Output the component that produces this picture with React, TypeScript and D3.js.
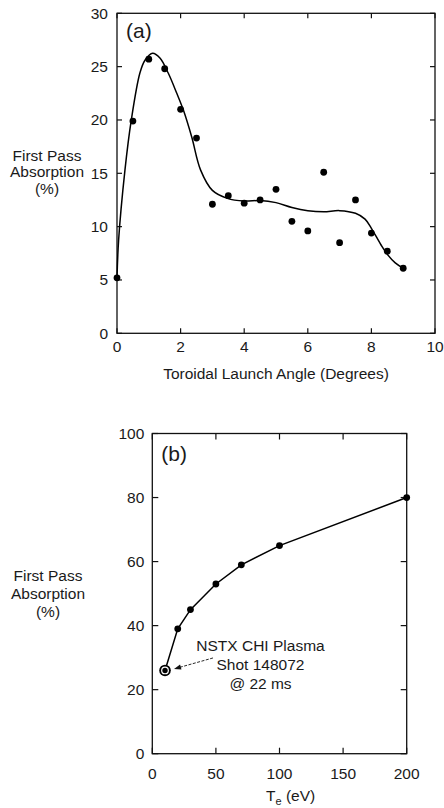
import React from "react";
import * as d3 from "d3";

// Panel (a): measured points
const angleA = [0, 0.5, 1.0, 1.5, 2.0, 2.5, 3.0, 3.5, 4.0, 4.5, 5.0, 5.5, 6.0, 6.5, 7.0, 7.5, 8.0, 8.5, 9.0];
const absorbA = [5.2, 19.9, 25.7, 24.8, 21.0, 18.3, 12.1, 12.9, 12.2, 12.5, 13.5, 10.5, 9.6, 15.1, 8.5, 12.5, 9.4, 7.7, 6.1];

// Panel (a): smooth fit curve
const fitX = [0, 0.05, 0.25, 0.45, 0.72, 0.88, 1.12, 1.35, 1.61, 1.88, 2.09, 2.35, 2.63, 3.0, 3.47, 4.0, 4.5, 5.0, 5.5, 6.0, 6.5, 7.0, 7.5, 7.8, 8.0, 8.3, 8.5, 8.75, 9.0];
const fitY = [5.2, 8.7, 15.3, 20.0, 24.4, 25.6, 26.25, 25.8, 24.4, 22.5, 20.9, 18.4, 15.3, 13.4, 12.65, 12.4, 12.45, 12.25, 11.8, 11.5, 11.4, 11.5, 11.25, 10.7, 9.84, 8.3, 7.4, 6.6, 6.1];

const ticksAX = [0, 2, 4, 6, 8, 10];
const ticksAY = [0, 5, 10, 15, 20, 25, 30];

// Panel (b)
const teB = [10, 20, 30, 50, 70, 100, 200];
const absorbB = [26, 39, 45, 53, 59, 65, 80];
const ticksBX = [0, 50, 100, 150, 200];
const ticksBY = [0, 20, 40, 60, 80, 100];

const noteLines = ["NSTX CHI Plasma", "Shot 148072", "@ 22 ms"];
const yLabel = ["First Pass", "Absorption", "(%)"];

const FONT = "'Liberation Sans', Arial, Helvetica, sans-serif";
const FS = 15.5;
const TXT = "#1a1a1a";

export default function App() {
  // Panel a geometry
  const aL = 117, aR = 435, aT = 13.3, aB = 333.3;
  const xA = d3.scaleLinear().domain([0, 10]).range([aL, aR]);
  const yA = d3.scaleLinear().domain([0, 30]).range([aB, aT]);
  const fitData = fitX.map((x, i) => [x, fitY[i]] as [number, number]);
  const fitPath = d3
    .line<[number, number]>()
    .x((d) => xA(d[0]))
    .y((d) => yA(d[1]))
    .curve(d3.curveCatmullRom.alpha(0.5))(fitData);

  // Panel b geometry
  const bL = 152.3, bR = 406.7, bT = 433.5, bB = 753.7;
  const xB = d3.scaleLinear().domain([0, 200]).range([bL, bR]);
  const yB = d3.scaleLinear().domain([0, 100]).range([bB, bT]);
  const bData = teB.map((x, i) => [x, absorbB[i]] as [number, number]);
  const bPath = d3
    .line<[number, number]>()
    .x((d) => xB(d[0]))
    .y((d) => yB(d[1]))(bData);

  const tk = 5;
  const hx = xB(teB[0]);
  const hy = yB(absorbB[0]);
  // arrow
  const ax1 = hx + 48, ay1 = hy - 12.5;
  const ax2 = hx + 9, ay2 = hy - 1.5;
  const ang = Math.atan2(ay2 - ay1, ax2 - ax1);
  const ah = 7, aw = 2.6;
  const headPts = [
    [ax2, ay2],
    [ax2 - ah * Math.cos(ang) + aw * Math.sin(ang), ay2 - ah * Math.sin(ang) - aw * Math.cos(ang)],
    [ax2 - ah * Math.cos(ang) - aw * Math.sin(ang), ay2 - ah * Math.sin(ang) + aw * Math.cos(ang)],
  ]
    .map((p) => p.join(","))
    .join(" ");

  return (
    <svg
      width={444}
      height={808}
      style={{ position: "absolute", left: 0, top: 0, background: "#fff" }}
      fontFamily={FONT}
    >
      <rect x={0} y={0} width={444} height={808} fill="#fff" />
      {/* ---------- Panel (a) ---------- */}
      <rect x={aL} y={aT} width={aR - aL} height={aB - aT} fill="none" stroke="#111" strokeWidth={1.3} />
      {ticksAX.map((t) => (
        <g key={"ax" + t}>
          <line x1={xA(t)} x2={xA(t)} y1={aB} y2={aB - tk} stroke="#111" strokeWidth={1.2} />
          <line x1={xA(t)} x2={xA(t)} y1={aT} y2={aT + tk} stroke="#111" strokeWidth={1.2} />
          <text x={xA(t)} y={aB + 13} textAnchor="middle" dominantBaseline="central" fontSize={FS} fill={TXT}>
            {t}
          </text>
        </g>
      ))}
      {ticksAY.map((t) => (
        <g key={"ay" + t}>
          <line x1={aL} x2={aL + tk} y1={yA(t)} y2={yA(t)} stroke="#111" strokeWidth={1.2} />
          <line x1={aR} x2={aR - tk} y1={yA(t)} y2={yA(t)} stroke="#111" strokeWidth={1.2} />
          <text x={aL - 9} y={yA(t)} textAnchor="end" dominantBaseline="central" fontSize={FS} fill={TXT}>
            {t}
          </text>
        </g>
      ))}
      <text x={aL + 9} y={38} fontSize={21} fill={TXT}>
        (a)
      </text>
      <path d={fitPath || ""} fill="none" stroke="#000" strokeWidth={1.5} />
      {angleA.map((x, i) => (
        <circle key={"pa" + i} cx={xA(x)} cy={yA(absorbA[i])} r={3.4} fill="#000" />
      ))}
      <text x={(aL + aR) / 2} y={373} textAnchor="middle" dominantBaseline="central" fontSize={FS} fill={TXT}>
        Toroidal Launch Angle (Degrees)
      </text>
      {yLabel.map((s, i) => (
        <text key={"yla" + i} x={47} y={155 + i * 16.7} textAnchor="middle" dominantBaseline="central" fontSize={FS} fill={TXT}>
          {s}
        </text>
      ))}

      {/* ---------- Panel (b) ---------- */}
      <rect x={bL} y={bT} width={bR - bL} height={bB - bT} fill="none" stroke="#111" strokeWidth={1.3} />
      {ticksBX.map((t) => (
        <g key={"bx" + t}>
          <line x1={xB(t)} x2={xB(t)} y1={bB} y2={bB - 6} stroke="#111" strokeWidth={1.2} />
          <line x1={xB(t)} x2={xB(t)} y1={bT} y2={bT + 6} stroke="#111" strokeWidth={1.2} />
          <text x={xB(t)} y={bB + 20} textAnchor="middle" dominantBaseline="central" fontSize={FS} fill={TXT}>
            {t}
          </text>
        </g>
      ))}
      {ticksBY.map((t) => (
        <g key={"by" + t}>
          <line x1={bL} x2={bL + 6} y1={yB(t)} y2={yB(t)} stroke="#111" strokeWidth={1.2} />
          <line x1={bR} x2={bR - 6} y1={yB(t)} y2={yB(t)} stroke="#111" strokeWidth={1.2} />
          <text x={bL - 8} y={yB(t)} textAnchor="end" dominantBaseline="central" fontSize={FS} fill={TXT}>
            {t}
          </text>
        </g>
      ))}
      <text x={bL + 9} y={461} fontSize={21} fill={TXT}>
        (b)
      </text>
      <path d={bPath || ""} fill="none" stroke="#000" strokeWidth={1.5} />
      {teB.slice(1).map((x, i) => (
        <circle key={"pb" + i} cx={xB(x)} cy={yB(absorbB[i + 1])} r={3.4} fill="#000" />
      ))}
      {/* highlighted point */}
      <circle cx={hx} cy={hy} r={5.8} fill="#000" />
      <circle cx={hx} cy={hy} r={3.9} fill="#fff" />
      <circle cx={hx} cy={hy} r={2.7} fill="#000" />
      {/* arrow */}
      <line x1={ax1} y1={ay1} x2={ax2 - 5 * Math.cos(ang)} y2={ay2 - 5 * Math.sin(ang)} stroke="#111" strokeWidth={0.9} strokeDasharray="3,1.5" />
      <polygon points={headPts} fill="#111" />
      {noteLines.map((s, i) => (
        <text key={"note" + i} x={260.5} y={645 + i * 19} textAnchor="middle" dominantBaseline="central" fontSize={FS} fill={TXT}>
          {s}
        </text>
      ))}
      {/* x label */}
      <text x={266} y={795} dominantBaseline="central" fontSize={FS} fill={TXT}>
        T
        <tspan fontSize={11} dy={6}>e</tspan>
        <tspan dy={-6}> (eV)</tspan>
      </text>
      {yLabel.map((s, i) => (
        <text key={"ylb" + i} x={48} y={575 + i * 18.3} textAnchor="middle" dominantBaseline="central" fontSize={FS} fill={TXT}>
          {s}
        </text>
      ))}
    </svg>
  );
}
